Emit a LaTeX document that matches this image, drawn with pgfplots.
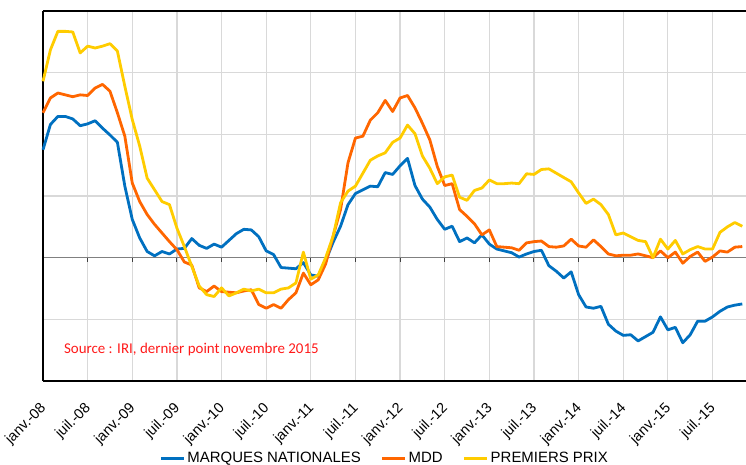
\documentclass[border=0pt]{standalone}
\usepackage{fontspec}
\setmainfont{Liberation Sans}
\newfontfamily\calibri{Carlito}
\usepackage{pgfplots}
\pgfplotsset{compat=1.18}
\usepackage{pgfplotstable}

\definecolor{cBlue}{HTML}{0070C0}
\definecolor{cOrange}{HTML}{FF6600}
\definecolor{cYellow}{HTML}{FFCC00}
\definecolor{cGrid}{HTML}{D9D9D9}
\definecolor{cZero}{HTML}{808080}
\definecolor{cSrc}{HTML}{FF1A1A}

\pgfplotstableread{
m mn mdd pp
0 1.75 2.35 2.86
1 2.16 2.59 3.37
2 2.29 2.67 3.67
3 2.29 2.64 3.67
4 2.25 2.61 3.66
5 2.14 2.64 3.32
6 2.17 2.63 3.43
7 2.22 2.75 3.40
8 2.10 2.81 3.43
9 1.99 2.70 3.47
10 1.87 2.35 3.35
11 1.16 1.97 2.78
12 0.62 1.21 2.24
13 0.32 0.91 1.81
14 0.10 0.70 1.29
15 0.03 0.54 1.10
16 0.10 0.40 0.91
17 0.06 0.26 0.86
18 0.14 0.13 0.48
19 0.15 -0.07 0.18
20 0.31 -0.12 -0.14
21 0.20 -0.49 -0.46
22 0.15 -0.55 -0.60
23 0.22 -0.46 -0.63
24 0.17 -0.55 -0.49
25 0.28 -0.56 -0.62
26 0.39 -0.57 -0.57
27 0.46 -0.54 -0.51
28 0.45 -0.52 -0.54
29 0.34 -0.76 -0.51
30 0.11 -0.82 -0.57
31 0.05 -0.76 -0.57
32 -0.16 -0.82 -0.51
33 -0.17 -0.68 -0.49
34 -0.18 -0.57 -0.41
35 -0.08 -0.25 0.09
36 -0.28 -0.44 -0.35
37 -0.30 -0.36 -0.28
38 -0.05 -0.10 0.00
39 0.25 0.35 0.35
40 0.51 0.78 0.89
41 0.86 1.54 1.08
42 1.04 1.94 1.16
43 1.10 1.97 1.37
44 1.16 2.23 1.58
45 1.15 2.35 1.65
46 1.38 2.55 1.70
47 1.35 2.37 1.87
48 1.49 2.59 1.94
49 1.61 2.63 2.15
50 1.17 2.43 2.01
51 0.95 2.18 1.65
52 0.82 1.91 1.45
53 0.62 1.48 1.20
54 0.46 1.17 1.31
55 0.51 1.20 1.34
56 0.26 0.78 0.98
57 0.32 0.67 0.93
58 0.24 0.55 1.09
59 0.37 0.37 1.13
60 0.22 0.45 1.26
61 0.14 0.18 1.20
62 0.11 0.17 1.20
63 0.08 0.16 1.21
64 0.01 0.12 1.20
65 0.06 0.24 1.36
66 0.10 0.26 1.35
67 0.12 0.27 1.43
68 -0.13 0.18 1.44
69 -0.22 0.17 1.37
70 -0.33 0.19 1.30
71 -0.23 0.30 1.23
72 -0.60 0.19 1.05
73 -0.80 0.17 0.88
74 -0.82 0.29 0.95
75 -0.79 0.18 0.86
76 -1.08 0.06 0.70
77 -1.19 0.03 0.37
78 -1.26 0.04 0.40
79 -1.25 0.04 0.34
80 -1.35 0.06 0.28
81 -1.28 0.03 0.26
82 -1.21 0.00 0.00
83 -0.96 0.11 0.30
84 -1.17 0.00 0.14
85 -1.13 0.09 0.28
86 -1.38 -0.09 0.06
87 -1.25 0.02 0.13
88 -1.03 0.09 0.18
89 -1.03 -0.06 0.14
90 -0.96 0.01 0.14
91 -0.87 0.11 0.41
92 -0.80 0.09 0.50
93 -0.77 0.17 0.57
94 -0.75 0.18 0.51
}\data

\begin{document}
\begin{tikzpicture}
\begin{axis}[name=ax,
  scale only axis, width=703bp, height=370bp,
  xmin=0, xmax=94.5, ymin=-2, ymax=4,
  clip=false,
  axis x line*=middle, axis y line*=left,
  hide obscured x ticks=false,
  x axis line style={draw=cZero, line width=1.4bp},
  y axis line style={draw=black, line width=1.2bp},
  xtick={0,6,...,90},
  xticklabels={janv.-08,juil.-08,janv.-09,juil.-09,janv.-10,juil.-10,janv.-11,juil.-11,janv.-12,juil.-12,janv.-13,juil.-13,janv.-14,juil.-14,janv.-15,juil.-15},
  xtick align=outside, major tick length=4bp,
  xtick style={draw=black!75, line width=1bp},
  ytick={-2,-1,...,4}, yticklabels={}, ytick style={draw=none},
  grid=major, grid style={cGrid, line width=1.2bp},
  xticklabel style={yshift=-138bp, xshift=-4bp, rotate=45, anchor=north east, inner sep=1bp,
    font=\fontsize{14.5}{17}\selectfont},
  every axis plot/.append style={no markers, line width=2.8bp, line join=round},
  legend style={at={(0.486,-0.209)}, anchor=center, draw=none, fill=none,
    legend columns=3, font=\fontsize{15}{18}\selectfont,
    /tikz/every even column/.append style={column sep=18bp}},
  legend image code/.code={\draw[#1, line width=3bp] (0bp,0bp) -- (23bp,0bp);},
]
\addplot[cBlue] table[x=m, y=mn] {\data};
\addlegendentry{MARQUES NATIONALES}
\addplot[cOrange] table[x=m, y=mdd] {\data};
\addlegendentry{MDD}
\addplot[cYellow] table[x=m, y=pp] {\data};
\addlegendentry{PREMIERS PRIX}
\draw[black, line width=1.2bp] (rel axis cs:0,1) -- (rel axis cs:1,1);
\draw[black, line width=1.2bp] (rel axis cs:0,0) -- (rel axis cs:1,0);
\node[anchor=west, text=cSrc, font=\calibri\fontsize{15}{18}\selectfont, inner sep=0pt]
  at (axis cs:2.8,-1.49) {Source : IRI, dernier point novembre 2015};
\end{axis}
\pgfresetboundingbox
\path ([xshift=-43bp,yshift=-84bp]ax.south west) rectangle ([yshift=11bp]ax.north east);
\end{tikzpicture}
\end{document}
